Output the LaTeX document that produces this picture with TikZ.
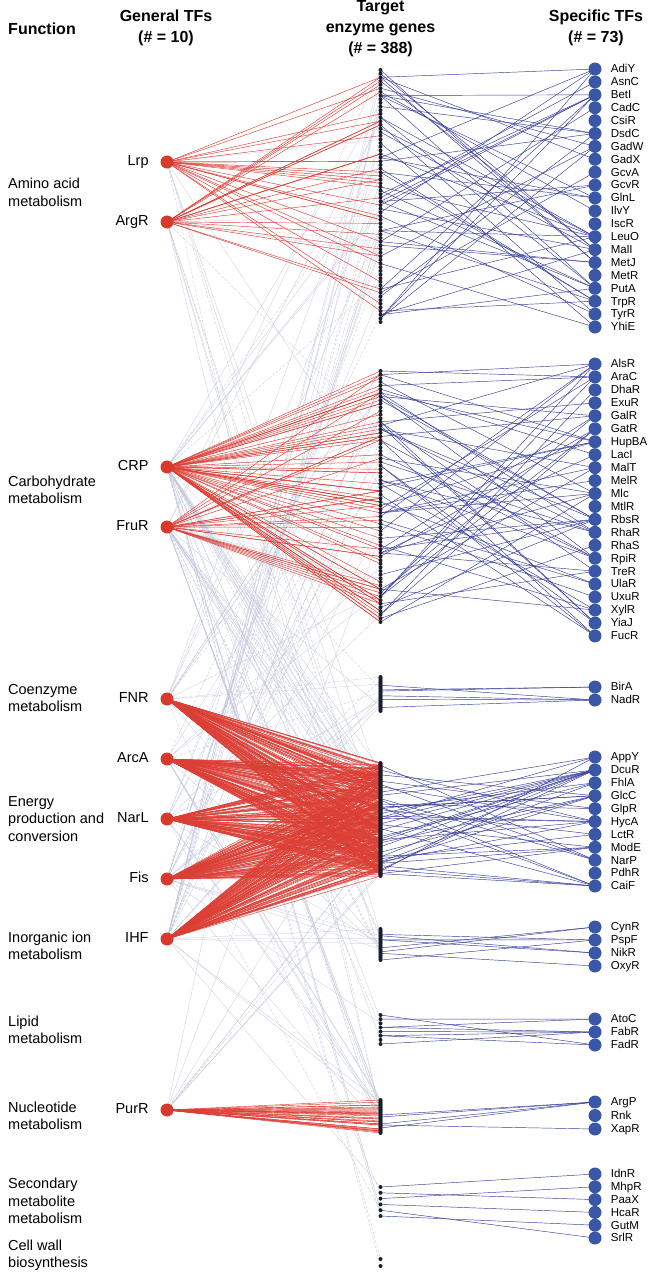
\documentclass[tikz,border=0pt]{standalone}
\usepackage{fontspec}
\setmainfont{Liberation Sans}
\pgfdeclarelayer{edgelayer}
\pgfsetlayers{edgelayer,main}
\definecolor{tfred}{RGB}{214,58,45}
\definecolor{edgered}{RGB}{220,62,52}
\definecolor{tfblue}{RGB}{58,86,166}
\definecolor{edgeblue}{RGB}{52,58,150}
\definecolor{genecol}{RGB}{25,30,45}
\definecolor{edgegray}{RGB}{192,196,218}
\newcommand\myheadfont{\bfseries\fontsize{16}{21}\selectfont}
\newcommand\myfuncfont{\fontsize{14.5}{17.5}\selectfont}
\newcommand\mygtffont{\fontsize{14.5}{17}\selectfont}
\newcommand\mystffont{\fontsize{11.5}{13}\selectfont}
% gene block: first index, count, y0, y1
\newcommand\geneblock[4]{%
  \foreach \i in {1,...,#2}{%
    \pgfmathtruncatemacro\gidx{#1+\i-1}%
    \pgfmathsetmacro\gy{#3+(\i-1)/(#2-1)*(#4-#3)}%
    \node[gene] (g\gidx) at (380.5,\gy) {};}}
% specific TF block: letter, y0, step, list
\newcommand\stfblock[4]{%
  \foreach \n [count=\c] in {#4}{%
    \node[stf=\n] (s#1\c) at (595,{#2+(\c-1)*#3}) {};}}
% red fan: source, count, lo, hi
\newcommand\redfan[4]{%
  \foreach \k in {1,...,#2}{%
    \pgfmathrandominteger{\gsel}{#3}{#4}%
    \draw[redge] (#1.center) -- (g\gsel.center);}}
% gray fan: source, count
\newcommand\grayfan[2]{%
  \foreach \k in {1,...,#2}{%
    \pgfmathrandominteger{\gsel}{1}{388}%
    \pgfmathtruncatemacro\md{mod(\k,3)}%
    \ifnum\md=0 \draw[gedged] (#1.center) -- (g\gsel.center);%
    \else \draw[gedge] (#1.center) -- (g\gsel.center);\fi}}
% blue edges: letter, nTF, lo, hi, count
\newcommand\blueedges[5]{%
  \foreach \k in {1,...,#5}{%
    \pgfmathrandominteger{\gsel}{#3}{#4}%
    \pgfmathrandominteger{\bsel}{1}{#2}%
    \draw[bedge] (g\gsel.center) -- (s#1\bsel.center);}}
\begin{document}
\begin{tikzpicture}[x=1pt,y=-1pt,
  gtf/.style={circle,fill=tfred,inner sep=0pt,minimum size=13pt,
    label={[font=\mygtffont,inner sep=0pt,text height=1.45ex,text depth=0pt,label distance=11.5pt]left:#1}},
  stf/.style={circle,fill=tfblue,inner sep=0pt,minimum size=13pt,
    label={[font=\mystffont,inner sep=0pt,text height=1.45ex,text depth=0pt,label distance=9pt]right:#1}},
  gene/.style={circle,fill=genecol,inner sep=0pt,minimum size=4pt},
  redge/.style={draw=edgered,line width=0.45pt},
  bedge/.style={draw=edgeblue,line width=0.45pt},
  gedge/.style={draw=edgegray,line width=0.25pt},
  gedged/.style={draw=edgegray,line width=0.3pt,dash pattern=on 3pt off 1.5pt},
  head/.style={font=\myheadfont,align=center,inner sep=0pt},
  func/.style={font=\myfuncfont,align=left,anchor=west,inner sep=0pt}]
\useasboundingbox (0,0) rectangle (648,1280);
\pgfmathsetseed{7}
% headings
\node[head] (hfun) at (42,29) {Function};
\node[head] (hgen) at (166,28) {General TFs\\(\# = 10)};
\node[head] (htar) at (380.5,29) {Target\\enzyme genes\\(\# = 388)};
\node[head] (hspe) at (596,28) {Specific TFs\\(\# = 73)};
% function labels
\node[func] (fa) at (8,192.5) {Amino acid\\metabolism};
\node[func] (fb) at (8,490) {Carbohydrate\\metabolism};
\node[func] (fc) at (8,698) {Coenzyme\\metabolism};
\node[func] (fd) at (8,819) {Energy\\production and\\conversion};
\node[func] (fe) at (8,946) {Inorganic ion\\metabolism};
\node[func] (ff) at (8,1030) {Lipid\\metabolism};
\node[func] (fg) at (8,1116) {Nucleotide\\metabolism};
\node[func] (fh) at (8,1201) {Secondary\\metabolite\\metabolism};
\node[func] (fi) at (8,1255) {Cell wall\\biosynthesis};
% target genes
\geneblock{1}{70}{70}{322}
\geneblock{71}{70}{371}{622}
\geneblock{141}{30}{677}{711}
\geneblock{171}{144}{763}{876}
\geneblock{315}{24}{929}{960}
\geneblock{339}{8}{1015}{1044}
\geneblock{347}{34}{1100}{1133}
\geneblock{381}{6}{1187}{1216}
\geneblock{387}{2}{1259}{1266}
% general TFs
\node[gtf=Lrp] (Lrp) at (167,162) {};
\node[gtf=ArgR] (ArgR) at (167,222) {};
\node[gtf=CRP] (CRP) at (167,467) {};
\node[gtf=FruR] (FruR) at (167,527) {};
\node[gtf=FNR] (FNR) at (167,699) {};
\node[gtf=ArcA] (ArcA) at (167,759) {};
\node[gtf=NarL] (NarL) at (167,819) {};
\node[gtf=Fis] (Fis) at (167,879) {};
\node[gtf=IHF] (IHF) at (167,939) {};
\node[gtf=PurR] (PurR) at (167,1110) {};
% specific TFs
\stfblock{A}{69}{12.9}{AdiY,AsnC,BetI,CadC,CsiR,DsdC,GadW,GadX,GcvA,GcvR,GlnL,IlvY,IscR,LeuO,MalI,MetJ,MetR,PutA,TrpR,TyrR,YhiE}
\stfblock{B}{364}{12.95}{AlsR,AraC,DhaR,ExuR,GalR,GatR,HupBA,LacI,MalT,MelR,Mlc,MtlR,RbsR,RhaR,RhaS,RpiR,TreR,UlaR,UxuR,XylR,YiaJ,FucR}
\stfblock{C}{687}{13}{BirA,NadR}
\stfblock{D}{757}{12.9}{AppY,DcuR,FhlA,GlcC,GlpR,HycA,LctR,ModE,NarP,PdhR,CaiF}
\stfblock{E}{927}{13}{CynR,PspF,NikR,OxyR}
\stfblock{F}{1019}{13}{AtoC,FabR,FadR}
\stfblock{G}{1102}{13.5}{ArgP,Rnk,XapR}
\stfblock{H}{1174}{12.8}{IdnR,MhpR,PaaX,HcaR,GutM,SrlR}
% connectors
\begin{pgfonlayer}{edgelayer}
\grayfan{Lrp}{8}
\grayfan{ArgR}{10}
\grayfan{CRP}{35}
\grayfan{FruR}{25}
\grayfan{FNR}{22}
\grayfan{ArcA}{22}
\grayfan{NarL}{18}
\grayfan{Fis}{28}
\grayfan{IHF}{30}
\grayfan{PurR}{10}
\redfan{Lrp}{22}{1}{70}
\redfan{ArgR}{20}{1}{70}
\redfan{CRP}{60}{71}{140}
\redfan{FruR}{25}{71}{140}
\redfan{FNR}{100}{171}{314}
\redfan{ArcA}{100}{171}{314}
\redfan{NarL}{90}{171}{314}
\redfan{Fis}{90}{171}{314}
\redfan{IHF}{90}{171}{314}
\redfan{PurR}{34}{347}{380}
\blueedges{A}{21}{1}{70}{55}
\blueedges{B}{22}{71}{140}{65}
\blueedges{C}{2}{141}{170}{6}
\blueedges{D}{11}{171}{314}{45}
\blueedges{E}{4}{315}{338}{8}
\blueedges{F}{3}{339}{346}{8}
\blueedges{G}{3}{347}{380}{5}
\draw[bedge] (g381.center) -- (sH1.center);
\draw[bedge] (g382.center) -- (sH3.center);
\draw[bedge] (g383.center) -- (sH2.center);
\draw[bedge] (g384.center) -- (sH4.center);
\draw[bedge] (g385.center) -- (sH6.center);
\draw[bedge] (g386.center) -- (sH5.center);
\end{pgfonlayer}
\end{tikzpicture}
\end{document}
